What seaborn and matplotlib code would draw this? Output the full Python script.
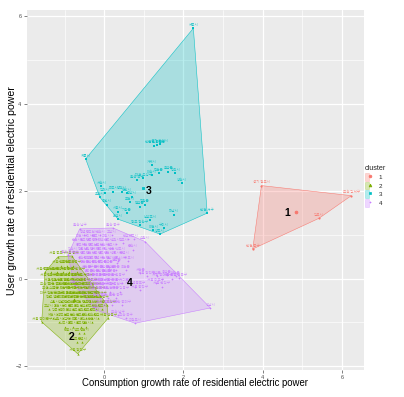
import numpy as np
import pandas as pd
import matplotlib
matplotlib.use("Agg")
import matplotlib.pyplot as plt
import seaborn as sns
from matplotlib.patches import Patch
from matplotlib.lines import Line2D
from matplotlib.legend_handler import HandlerTuple

# ---------------- data ----------------
c1_x = [3.97, 6.24, 3.75, 5.42]
c1_y = [2.13, 1.90, 0.68, 1.38]
c1_names = ["경기 광주시", "부산 강서구", "인천 중구", "김포시"]

c3_x = [2.25, -0.47, -0.11, 0.35, 1.41, 2.60,
        1.33, 1.25, 1.40, 1.20, 0.82, 0.99, 1.20, 1.37, 1.62, 1.79, 1.96,
        0.02, 0.23, 0.44, 0.57, 0.69, 0.06, 0.35, 0.57, 0.90, 1.03, 1.16,
        1.75, 0.90, 1.24, 1.50, -0.07, 0.65]
c3_y = [5.73, 2.74, 1.86, 1.36, 1.02, 1.50,
        3.06, 3.04, 3.08, 2.60, 2.26, 2.30, 2.37, 2.41, 2.45, 2.41, 2.18,
        1.95, 1.99, 1.99, 1.95, 1.88, 1.69, 1.53, 1.50, 1.65, 1.69, 1.34,
        1.46, 1.22, 1.11, 1.15, 2.11, 1.75]
c3_names = ["세종시", "계룡시", "오산시", "화성시", "양주시", "인천 서구",
            "인천 옹진군", "인천 강화군", "경기 화성시", "거제시", "울산 북구",
            "대전 유성구", "아산시", "진천군", "음성군", "당진시", "양산시",
            "김해시", "파주시", "평택시", "천안시", "광양시", "용인시", "시흥시",
            "기장군", "달성군", "청원군", "남양주시", "하남시", "광주 광산구",
            "이천시", "구미시", "서산시", "포천시"]

c2_pts = [
    (-1.17, 0.50), (-0.82, 0.52), (0.07, -0.60), (0.10, -0.90), (-0.67, -1.72),
    (-1.58, -0.99), (-1.50, 0.15),
    (-1.10, 0.30), (-0.95, 0.30), (-0.80, 0.30),
    (-1.35, 0.15), (-1.20, 0.15), (-1.05, 0.15), (-0.90, 0.15), (-0.70, 0.15),
    (-1.40, 0.00), (-1.25, 0.00), (-1.10, 0.00), (-0.95, 0.00), (-0.80, 0.00),
    (-0.65, 0.00), (-0.50, 0.00),
    (-1.30, -0.10), (-1.15, -0.10), (-1.00, -0.10), (-0.85, -0.10), (-0.70, -0.10),
    (-0.55, -0.10), (-0.40, -0.10),
    (-1.45, -0.20), (-1.20, -0.20), (-1.05, -0.20), (-0.90, -0.20), (-0.75, -0.20),
    (-0.60, -0.20), (-0.45, -0.20), (-0.30, -0.20),
    (-1.35, -0.30), (-1.10, -0.30), (-0.95, -0.30), (-0.80, -0.30), (-0.65, -0.30),
    (-0.50, -0.30), (-0.35, -0.30), (-0.20, -0.30),
    (-1.40, -0.40), (-1.20, -0.40), (-1.00, -0.40), (-0.85, -0.40), (-0.70, -0.40),
    (-0.55, -0.40), (-0.40, -0.40), (-0.25, -0.40), (-0.10, -0.40),
    (-1.30, -0.50), (-1.10, -0.50), (-0.95, -0.50), (-0.80, -0.50), (-0.65, -0.50),
    (-0.50, -0.50), (-0.35, -0.50), (-0.20, -0.50), (-0.05, -0.50),
    (-1.25, -0.60), (-1.05, -0.60), (-0.90, -0.60), (-0.75, -0.60), (-0.60, -0.60),
    (-0.45, -0.60), (-0.30, -0.60), (-0.15, -0.60),
    (-1.40, -0.70), (-1.15, -0.70), (-0.95, -0.70), (-0.80, -0.70), (-0.65, -0.70),
    (-0.50, -0.70), (-0.35, -0.70), (-0.20, -0.70), (-0.05, -0.70),
    (-1.20, -0.80), (-1.00, -0.80), (-0.85, -0.80), (-0.70, -0.80), (-0.55, -0.80),
    (-0.40, -0.80), (-0.25, -0.80),
    (-1.30, -0.90), (-1.05, -0.90), (-0.90, -0.90), (-0.75, -0.90), (-0.60, -0.90),
    (-0.45, -0.90), (-0.30, -0.90), (-0.15, -0.90),
    (-1.15, -1.00), (-0.90, -1.00), (-0.70, -1.00), (-0.50, -1.00), (-0.30, -1.00),
    (-1.00, -1.10), (-0.80, -1.10), (-0.60, -1.10), (-0.45, -1.10),
    (-0.90, -1.25), (-0.65, -1.25), (-0.50, -1.25),
    (-0.70, -1.45), (-0.55, -1.45),
]

c4_pts = [
    (-0.92, 0.54), (-0.62, 1.14), (0.22, 1.16), (1.03, 0.85), (2.68, -0.67),
    (0.78, -1.02), (-0.20, -0.72), (-0.75, -0.15),
    (-0.50, 1.00), (-0.30, 1.00), (-0.10, 1.00), (0.20, 1.00),
    (-0.60, 0.90), (-0.40, 0.90), (-0.20, 0.90), (0.05, 0.90), (0.60, 0.90), (0.75, 0.90),
    (-0.70, 0.80), (-0.50, 0.80), (-0.35, 0.80), (-0.20, 0.80), (-0.05, 0.80),
    (0.10, 0.80), (0.30, 0.80), (0.48, 0.81),
    (-0.60, 0.70), (-0.45, 0.70), (-0.30, 0.70), (-0.15, 0.70), (0.00, 0.70),
    (0.20, 0.70), (0.73, 0.66),
    (-0.80, 0.60), (-0.55, 0.60), (-0.40, 0.60), (-0.25, 0.60), (-0.10, 0.60),
    (0.05, 0.60), (0.25, 0.60), (0.40, 0.60),
    (-0.65, 0.50), (-0.50, 0.50), (-0.35, 0.50), (-0.20, 0.50), (-0.05, 0.50),
    (0.10, 0.50), (0.30, 0.50), (0.52, 0.50),
    (-0.55, 0.40), (-0.40, 0.40), (-0.30, 0.40), (-0.15, 0.40), (0.00, 0.40),
    (0.15, 0.40), (0.35, 0.40), (0.60, 0.40),
    (-0.50, 0.30), (-0.35, 0.30), (-0.20, 0.30), (-0.05, 0.30), (0.10, 0.30), (0.31, 0.35),
    (-0.45, 0.20), (-0.30, 0.20), (-0.15, 0.20), (0.00, 0.20), (0.15, 0.20),
    (0.30, 0.20), (0.55, 0.20),
    (-0.40, 0.10), (-0.25, 0.10), (-0.10, 0.10), (0.05, 0.10), (0.20, 0.10),
    (0.91, 0.12), (1.33, 0.05), (1.58, 0.08), (1.80, 0.05),
    (-0.35, 0.00), (-0.20, 0.00), (-0.05, 0.00), (0.10, 0.00), (0.30, 0.00),
    (1.07, 0.05), (1.45, 0.00), (1.70, 0.00), (1.88, 0.01),
    (-0.30, -0.10), (-0.15, -0.10), (0.00, -0.10), (0.20, -0.10), (0.45, -0.10),
    (1.30, -0.10),
    (-0.25, -0.20), (-0.10, -0.20), (0.05, -0.20), (0.25, -0.20), (0.78, -0.18),
    (0.90, -0.26), (1.45, -0.18),
    (-0.20, -0.30), (0.00, -0.30), (0.15, -0.30), (0.40, -0.30),
    (-0.10, -0.45), (0.10, -0.45), (0.30, -0.45),
    (0.00, -0.60), (0.20, -0.60), (0.45, -0.60),
    (0.35, -0.83), (0.55, -0.90),
]

c2_x = [p[0] for p in c2_pts]
c2_y = [p[1] for p in c2_pts]
c4_x = [p[0] for p in c4_pts]
c4_y = [p[1] for p in c4_pts]

name_pool = ["서울 종로구", "서울 중구", "서울 용산구", "서울 성동구", "서울 광진구",
             "서울 동대문구", "서울 중랑구", "서울 성북구", "서울 강북구", "서울 도봉구",
             "서울 노원구", "서울 은평구", "서울 서대문구", "서울 마포구", "서울 양천구",
             "서울 강서구", "서울 구로구", "서울 금천구", "서울 영등포구", "서울 동작구",
             "서울 관악구", "서울 서초구", "서울 강남구", "서울 송파구", "서울 강동구",
             "부산 중구", "부산 서구", "부산 동구", "부산 영도구", "부산 진구",
             "부산 동래구", "부산 남구", "부산 북구", "부산 해운대구", "부산 사하구",
             "부산 금정구", "부산 연제구", "부산 수영구", "부산 사상구", "대구 중구",
             "대구 동구", "대구 서구", "대구 남구", "대구 북구", "대구 수성구",
             "대구 달서구", "인천 동구", "인천 미추홀구", "인천 연수구", "인천 남동구",
             "인천 부평구", "인천 계양구", "광주 동구", "광주 서구", "광주 남구",
             "광주 북구", "대전 동구", "대전 중구", "대전 서구", "대전 대덕구",
             "울산 중구", "울산 남구", "울산 동구", "수원시", "성남시", "의정부시",
             "안양시", "부천시", "광명시", "동두천시", "안산시", "고양시", "과천시",
             "구리시", "군포시", "의왕시", "안성시", "여주시", "춘천시", "원주시",
             "강릉시", "동해시", "태백시", "속초시", "삼척시", "청주시", "충주시",
             "제천시", "공주시", "보령시", "논산시", "전주시", "군산시", "익산시",
             "정읍시", "남원시", "김제시", "목포시", "여수시", "순천시", "나주시",
             "포항시", "경주시", "김천시", "안동시", "영주시", "영천시", "상주시",
             "문경시", "경산시", "창원시", "진주시", "통영시", "사천시", "밀양시",
             "제주시", "서귀포시", "홍천군", "횡성군", "영월군", "평창군", "정선군",
             "철원군", "화천군", "양구군", "인제군", "고성군", "양양군", "보은군",
             "옥천군", "영동군", "괴산군", "단양군", "금산군", "부여군", "서천군",
             "청양군", "홍성군", "예산군", "태안군"]

cluster_ids = ["1", "2", "3", "4"]
palette = ["#F8766D", "#7CAE00", "#00BFC4", "#C77CFF"]
markers = ["o", "^", "s", "+"]
center_label_x = [4.62, -0.83, 1.11, 0.65]
center_label_y = [1.50, -1.33, 2.01, -0.11]

c2_names = [name_pool[i % len(name_pool)] for i in range(len(c2_x))]
c4_names = [name_pool[(i + 60) % len(name_pool)] for i in range(len(c4_x))]

frames = []
for cid, xs, ys, ns in [("1", c1_x, c1_y, c1_names), ("2", c2_x, c2_y, c2_names),
                        ("3", c3_x, c3_y, c3_names), ("4", c4_x, c4_y, c4_names)]:
    frames.append(pd.DataFrame({"x": xs, "y": ys, "name": ns, "cluster": cid}))
df = pd.concat(frames, ignore_index=True)


def convex_hull(points):
    pts = sorted(set(points))
    if len(pts) <= 2:
        return pts

    def cross(o, a, b):
        return (a[0] - o[0]) * (b[1] - o[1]) - (a[1] - o[1]) * (b[0] - o[0])
    lower, upper = [], []
    for p in pts:
        while len(lower) >= 2 and cross(lower[-2], lower[-1], p) <= 0:
            lower.pop()
        lower.append(p)
    for p in reversed(pts):
        while len(upper) >= 2 and cross(upper[-2], upper[-1], p) <= 0:
            upper.pop()
        upper.append(p)
    return lower[:-1] + upper[:-1]


# ---------------- figure ----------------
sns.set_theme(style="darkgrid", rc={
    "axes.facecolor": "#EBEBEB",
    "grid.color": "white",
    "axes.edgecolor": "#EBEBEB",
})
plt.rcParams["font.family"] = ["Liberation Sans", "DejaVu Sans"]

fig = plt.figure(figsize=(4.04, 3.97), dpi=100)
ax = fig.add_axes([0.066, 0.068, 0.836, 0.907])
ax.set_xlim(-1.96, 6.57)
ax.set_ylim(-2.09, 6.15)

for cid, col in zip(cluster_ids, palette):
    sub = df[df.cluster == cid]
    hull = convex_hull(list(zip(sub.x, sub.y)))
    hx = [p[0] for p in hull]
    hy = [p[1] for p in hull]
    ax.fill(hx, hy, facecolor=col, alpha=0.28, edgecolor="none", zorder=1)
    ax.plot(hx + [hx[0]], hy + [hy[0]], color=col, lw=0.4, alpha=0.9, zorder=1.5)

for cid, col, mk in zip(cluster_ids, palette, markers):
    sub = df[df.cluster == cid]
    if mk == "+":
        sns.scatterplot(data=sub, x="x", y="y", color=col, marker=mk, s=4,
                        linewidth=0.45, ax=ax, legend=False, zorder=3)
    else:
        sns.scatterplot(data=sub, x="x", y="y", color=col, marker=mk, s=2.5,
                        linewidth=0, ax=ax, legend=False, zorder=3)
    for xv, yv, nm in zip(sub.x, sub.y, sub.name):
        ax.annotate(nm, (xv, yv), xytext=(0, 1.0), textcoords="offset points",
                    ha="center", va="bottom", fontsize=2.5, color=col, alpha=0.85,
                    family=["Noto Sans CJK KR", "DejaVu Sans"], zorder=4)
    ax.scatter([sub.x.mean()], [sub.y.mean()], color=col,
               marker=mk, s=4, linewidths=0.6, zorder=5)

for cid, lx, ly in zip(cluster_ids, center_label_x, center_label_y):
    ax.text(lx, ly, cid, ha="center", va="center", fontsize=7.5,
            fontweight="bold", color="black", zorder=6)

ax.set_xticks([0, 2, 4, 6])
ax.set_yticks([-2, 0, 2, 4, 6])
ax.set_xticks([-1, 1, 3, 5], minor=True)
ax.set_yticks([-1, 1, 3, 5], minor=True)
ax.grid(which="major", color="white", lw=0.9)
ax.grid(which="minor", color="white", lw=0.45)
ax.tick_params(axis="both", which="major", labelsize=4, colors="#4D4D4D",
               length=2.2, width=0.5, pad=1.5, bottom=True, left=True)
ax.tick_params(axis="both", which="minor", length=0)
ax.set_xlabel("")
ax.set_ylabel("")
for s in ax.spines.values():
    s.set_visible(False)

fig.text(0.483, 0.035, "Consumption growth rate of residential electric power",
         ha="center", va="center", fontsize=6.9, color="black")
fig.text(0.030, 0.521, "User growth rate of residential electric power",
         ha="center", va="center", rotation=90, fontsize=7.6, color="black")

handles = []
for col, mk in zip(palette, markers):
    patch = Patch(facecolor=col, alpha=0.3, edgecolor=col, lw=0.5)
    line = Line2D([], [], color=col, marker=mk, linestyle="none", markersize=2.0,
                  markeredgewidth=0.5)
    handles.append((patch, line))
leg = fig.legend(handles, cluster_ids, title="cluster", loc="upper left",
                 bbox_to_anchor=(0.903, 0.585), frameon=False, fontsize=4.5,
                 title_fontsize=5.2, handler_map={tuple: HandlerTuple(ndivide=None, pad=0)},
                 handlelength=1.2, handleheight=1.5, labelspacing=0.18,
                 handletextpad=1.0, borderaxespad=0, borderpad=0)
leg._legend_box.align = "left"

fig.savefig("out.png", dpi=100)
